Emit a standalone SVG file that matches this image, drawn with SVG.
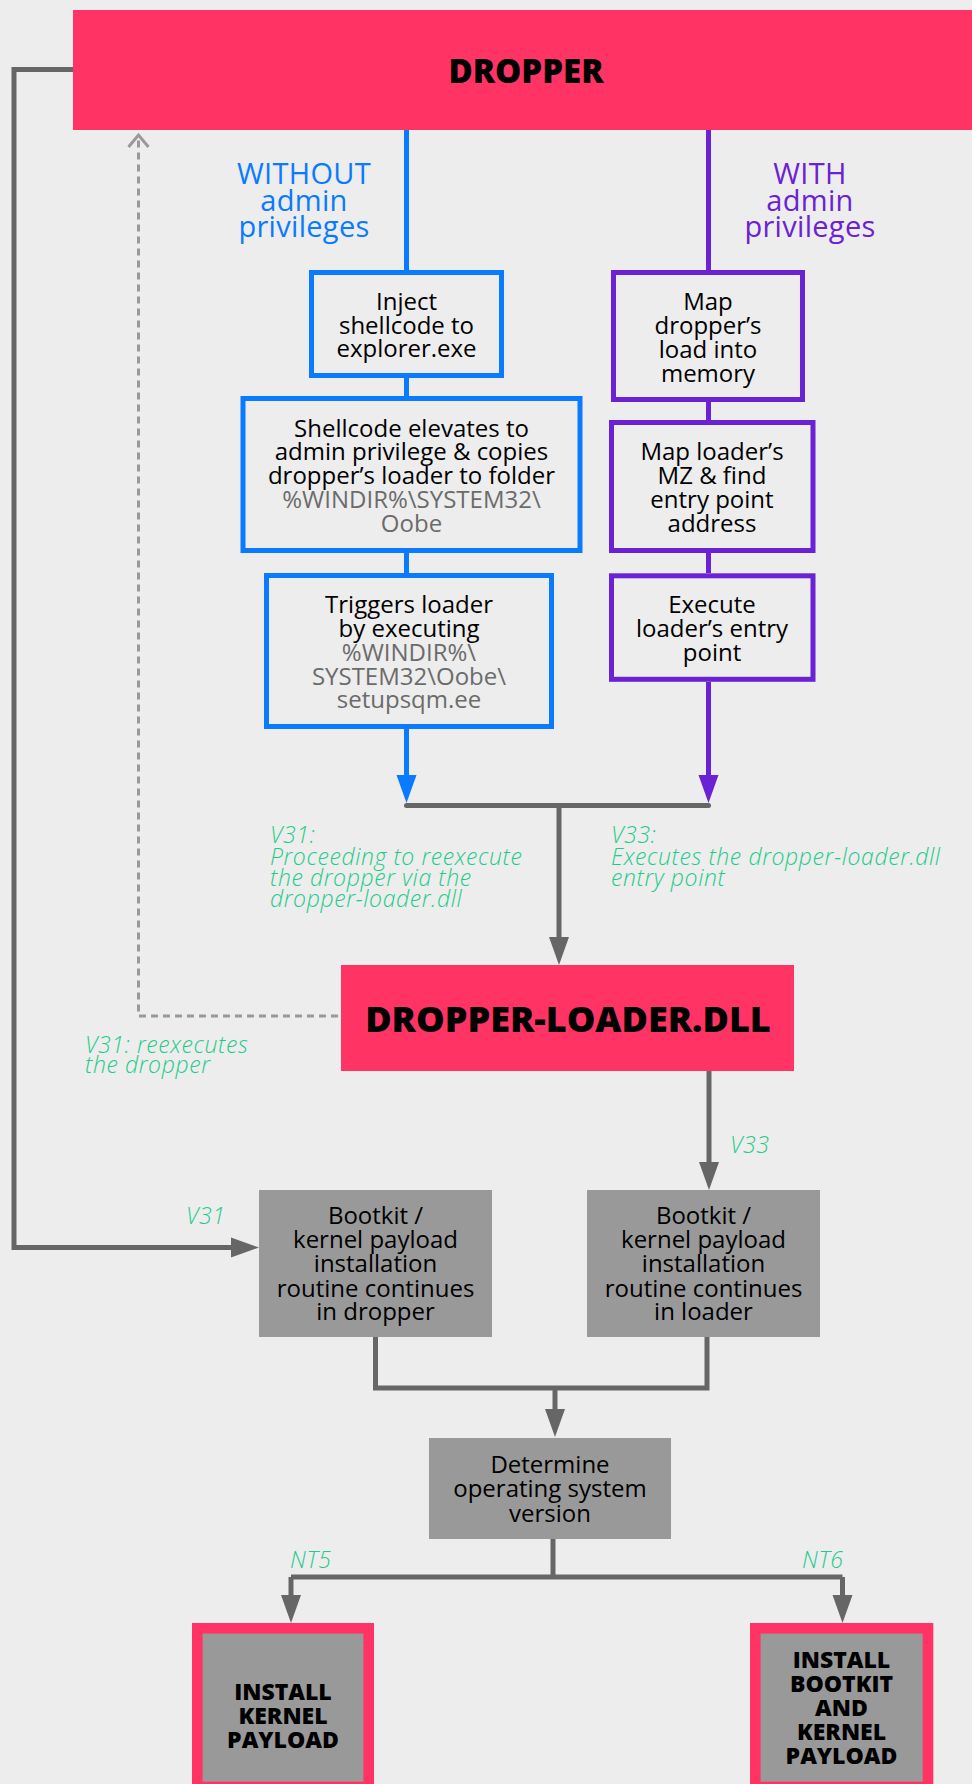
<svg xmlns="http://www.w3.org/2000/svg" width="972" height="1784" viewBox="0 0 972 1784">
<style>
  .bg{fill:#ededed}
  .pink{fill:#ff3464}
  .bbox{fill:none;stroke:#0a7bff;stroke-width:5}
  .pbox{fill:none;stroke:#6a22d4;stroke-width:5}
  .gbox{fill:#999999}
  .ibox{fill:#999999;stroke:#ff3464;stroke-width:10.6}
  .t{font-family:"Open Sans","Liberation Sans",sans-serif;font-size:24px;fill:#000;text-anchor:middle}
  .tg{fill:#6b6b6b}
  .tb{font-family:"Open Sans","Liberation Sans",sans-serif;font-weight:800;fill:#000;text-anchor:middle}
  .hdr{font-family:"Open Sans","Liberation Sans",sans-serif;font-size:29px;letter-spacing:0.3px;text-anchor:middle}
  .lbl{font-family:"Open Sans","Liberation Sans",sans-serif;font-size:23px;font-style:italic;font-weight:300;letter-spacing:0.6px;fill:#1dcc8a}
  .cb{fill:none;stroke:#0a7bff;stroke-width:5}
  .cp{fill:none;stroke:#6a22d4;stroke-width:5}
  .cg{fill:none;stroke:#666666;stroke-width:5}
  .cd{fill:none;stroke:#999999;stroke-width:3;stroke-dasharray:7 5}
</style>
<defs>
  <marker id="ah-g" markerUnits="userSpaceOnUse" markerWidth="28" markerHeight="20" refX="0" refY="10" orient="auto" overflow="visible">
    <path d="M0,0 L28,10 L0,20 z" fill="#666666"/>
  </marker>
  <marker id="ah-b" markerUnits="userSpaceOnUse" markerWidth="28" markerHeight="20" refX="0" refY="10" orient="auto" overflow="visible">
    <path d="M0,0 L28,10 L0,20 z" fill="#0a7bff"/>
  </marker>
  <marker id="ah-p" markerUnits="userSpaceOnUse" markerWidth="28" markerHeight="20" refX="0" refY="10" orient="auto" overflow="visible">
    <path d="M0,0 L28,10 L0,20 z" fill="#6a22d4"/>
  </marker>
  <marker id="ah-open" markerUnits="userSpaceOnUse" markerWidth="14" markerHeight="22" refX="12" refY="10" orient="auto" overflow="visible">
    <path d="M0,0 L12,10 L0,20" fill="none" stroke="#999999" stroke-width="3"/>
  </marker>
</defs>
<rect class="bg" x="0" y="0" width="972" height="1784"/>

<g id="connectors">
  <path class="cb" d="M406.5,130 V270"/>
  <path class="cb" d="M406.5,378 V396"/>
  <path class="cb" d="M406.5,553 V573"/>
  <path class="cb" d="M406.5,729 V775" marker-end="url(#ah-b)"/>
  <path class="cp" d="M708.5,130 V270"/>
  <path class="cp" d="M708.5,402 V420"/>
  <path class="cp" d="M708.5,553 V573"/>
  <path class="cp" d="M708.5,682 V775" marker-end="url(#ah-p)"/>
  <path class="cg" d="M406.5,805.5 H708.5" stroke-linecap="round"/>
  <path class="cg" d="M559,805.5 V937" marker-end="url(#ah-g)"/>
  <path class="cd" d="M338,1016 H138.5 V135" marker-end="url(#ah-open)"/>
  <path class="cg" d="M73,69.5 H14 V1247.5 H231" marker-end="url(#ah-g)"/>
  <path class="cg" d="M709,1071 V1162" marker-end="url(#ah-g)"/>
  <path class="cg" d="M375.5,1337 V1388 H707 V1337"/>
  <path class="cg" d="M555,1388 V1409" marker-end="url(#ah-g)"/>
  <path class="cg" d="M553,1539 V1577"/>
  <path class="cg" d="M291,1577 H842.5"/>
  <path class="cg" d="M291,1577 V1595" marker-end="url(#ah-g)"/>
  <path class="cg" d="M842.5,1577 V1595" marker-end="url(#ah-g)"/>
</g>

<g id="labels">
  <text class="hdr" fill="#0a7bff"><tspan x="304" y="184">WITHOUT</tspan><tspan x="304" y="211">admin</tspan><tspan x="304" y="237">privileges</tspan></text>
  <text class="hdr" fill="#6a22d4"><tspan x="810" y="184">WITH</tspan><tspan x="810" y="211">admin</tspan><tspan x="810" y="237">privileges</tspan></text>
  <text class="lbl"><tspan x="270" y="843">V31:</tspan><tspan x="270" y="865">Proceeding to reexecute</tspan><tspan x="270" y="886">the dropper via the</tspan><tspan x="270" y="907">dropper-loader.dll</tspan></text>
  <text class="lbl"><tspan x="611" y="843">V33:</tspan><tspan x="611" y="865">Executes the dropper-loader.dll</tspan><tspan x="611" y="886">entry point</tspan></text>
  <text class="lbl"><tspan x="85" y="1053">V31: reexecutes</tspan><tspan x="85" y="1073">the dropper</tspan></text>
  <text class="lbl" x="730" y="1153">V33</text>
  <text class="lbl" x="186" y="1224">V31</text>
  <text class="lbl" x="290" y="1568">NT5</text>
  <text class="lbl" x="802" y="1568">NT6</text>
</g>

<g id="dropper">
  <rect class="pink" x="73" y="10" width="920" height="120"/>
  <text class="tb" x="526" y="83" font-size="33">DROPPER</text>
</g>

<g id="inject">
  <rect class="bbox" x="311.5" y="272.5" width="190" height="103"/>
  <text class="t"><tspan x="406.5" y="310">Inject</tspan><tspan x="406.5" y="334">shellcode to</tspan><tspan x="406.5" y="357">explorer.exe</tspan></text>
</g>

<g id="shellcode-elevates">
  <rect class="bbox" x="243" y="398.5" width="337" height="152"/>
  <text class="t"><tspan x="411.5" y="437">Shellcode elevates to</tspan><tspan x="411.5" y="460">admin privilege &amp; copies</tspan><tspan x="411.5" y="484">dropper’s loader to folder</tspan><tspan class="tg" x="411.5" y="508">%WINDIR%\SYSTEM32\</tspan><tspan class="tg" x="411.5" y="532">Oobe</tspan></text>
</g>

<g id="triggers-loader">
  <rect class="bbox" x="266.5" y="575.5" width="285" height="151"/>
  <text class="t"><tspan x="409" y="613">Triggers loader</tspan><tspan x="409" y="637">by executing</tspan><tspan class="tg" x="409" y="661">%WINDIR%\</tspan><tspan class="tg" x="409" y="685">SYSTEM32\Oobe\</tspan><tspan class="tg" x="409" y="708">setupsqm.ee</tspan></text>
</g>

<g id="map-dropper">
  <rect class="pbox" x="613.5" y="272.5" width="189" height="127"/>
  <text class="t"><tspan x="708" y="310">Map</tspan><tspan x="708" y="334">dropper’s</tspan><tspan x="708" y="358">load into</tspan><tspan x="708" y="382">memory</tspan></text>
</g>

<g id="map-loader">
  <rect class="pbox" x="611.5" y="422.5" width="201.5" height="128"/>
  <text class="t"><tspan x="712" y="460">Map loader’s</tspan><tspan x="712" y="484">MZ &amp; find</tspan><tspan x="712" y="508">entry point</tspan><tspan x="712" y="532">address</tspan></text>
</g>

<g id="execute-entry">
  <rect class="pbox" x="611.5" y="575.8" width="201.5" height="103.5"/>
  <text class="t"><tspan x="712" y="613">Execute</tspan><tspan x="712" y="637">loader’s entry</tspan><tspan x="712" y="661">point</tspan></text>
</g>

<g id="dropper-loader">
  <rect class="pink" x="341" y="965" width="453" height="106"/>
  <text class="tb" x="568" y="1032" font-size="36">DROPPER-LOADER.DLL</text>
</g>

<g id="bootkit-dropper">
  <rect class="gbox" x="259" y="1190" width="233" height="147"/>
  <text class="t"><tspan x="375.5" y="1224">Bootkit /</tspan><tspan x="375.5" y="1248">kernel payload</tspan><tspan x="375.5" y="1272">installation</tspan><tspan x="375.5" y="1297">routine continues</tspan><tspan x="375.5" y="1320">in dropper</tspan></text>
</g>

<g id="bootkit-loader">
  <rect class="gbox" x="587" y="1190" width="233" height="147"/>
  <text class="t"><tspan x="703.5" y="1224">Bootkit /</tspan><tspan x="703.5" y="1248">kernel payload</tspan><tspan x="703.5" y="1272">installation</tspan><tspan x="703.5" y="1297">routine continues</tspan><tspan x="703.5" y="1320">in loader</tspan></text>
</g>

<g id="determine-os">
  <rect class="gbox" x="429" y="1438" width="242" height="101"/>
  <text class="t"><tspan x="550" y="1473">Determine</tspan><tspan x="550" y="1497">operating system</tspan><tspan x="550" y="1522">version</tspan></text>
</g>

<g id="install-kernel">
  <rect class="ibox" x="197.3" y="1628.3" width="171.4" height="158.7"/>
  <text class="tb" font-size="23"><tspan x="283" y="1700">INSTALL</tspan><tspan x="283" y="1724">KERNEL</tspan><tspan x="283" y="1748">PAYLOAD</tspan></text>
</g>

<g id="install-bootkit">
  <rect class="ibox" x="755.3" y="1628.3" width="172.7" height="158.7"/>
  <text class="tb" font-size="23"><tspan x="841.5" y="1668">INSTALL</tspan><tspan x="841.5" y="1692">BOOTKIT</tspan><tspan x="841.5" y="1716">AND</tspan><tspan x="841.5" y="1740">KERNEL</tspan><tspan x="841.5" y="1764">PAYLOAD</tspan></text>
</g>
</svg>
